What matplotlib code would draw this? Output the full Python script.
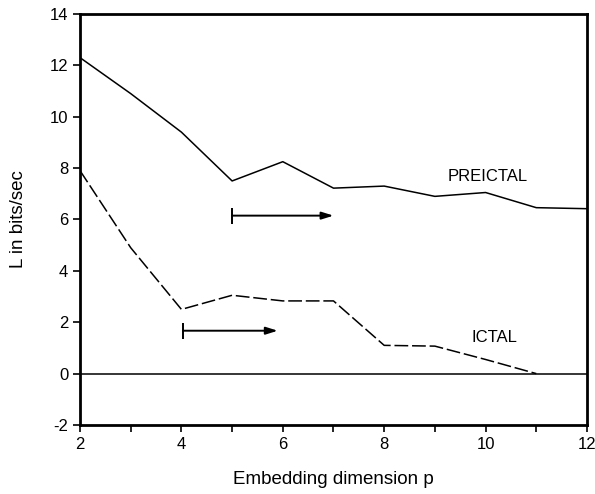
"""L (bits/sec) frente a la dimensión de embedding, preictal vs ictal."""

import matplotlib

matplotlib.use("Agg")
import matplotlib.pyplot as plt
from matplotlib.ticker import MultipleLocator

plt.rcParams["font.family"] = ["Liberation Sans", "DejaVu Sans"]
plt.rcParams["axes.unicode_minus"] = False

dims = [2, 3, 4, 5, 6, 7, 8, 9, 10, 11, 12]
preictal = [12.3, 10.9, 9.4, 7.5, 8.25, 7.22, 7.3, 6.9, 7.05, 6.46, 6.42]

dims_ictal = [2, 3, 4, 5, 6, 7, 8, 9, 10, 11]
ictal = [7.9, 4.9, 2.5, 3.05, 2.83, 2.83, 1.1, 1.07, 0.55, 0.0]

# flechas: (inicio x, fin x, y)
arrows = [(5.0, 7.0, 6.15), (4.03, 5.9, 1.67)]

fig = plt.figure(figsize=(5.95, 4.94), dpi=100)
ax = fig.add_axes([0.1345, 0.1397, 0.852, 0.832])

ax.plot(dims, preictal, color="black", linewidth=1.1)
ax.plot(dims_ictal, ictal, color="black", linewidth=1.1, dashes=(9, 2.5))
ax.axhline(0, color="black", linewidth=1.1)

for x0, x1, y in arrows:
    ax.annotate(
        "",
        xy=(x1, y),
        xytext=(x0, y),
        arrowprops=dict(arrowstyle="-|>,head_length=0.7,head_width=0.22",
                        color="black", linewidth=1.4, shrinkA=0, shrinkB=0),
    )
    ax.plot([x0], [y], marker="|", markersize=11, markeredgewidth=1.4, color="black")

ax.text(10.05, 7.67, "PREICTAL", fontsize=12, ha="center", va="center")
ax.text(10.17, 1.4, "ICTAL", fontsize=12, ha="center", va="center")

ax.set_xlim(2, 12)
ax.set_ylim(-2, 14)
ax.xaxis.set_major_locator(MultipleLocator(2))
ax.xaxis.set_minor_locator(MultipleLocator(1))
ax.yaxis.set_major_locator(MultipleLocator(2))
ax.tick_params(which="both", direction="out", width=1.2, labelsize=12)
ax.tick_params(which="major", length=5)
ax.tick_params(which="minor", length=5)
for s in ax.spines.values():
    s.set_linewidth(2.0)

ax.set_xlabel("Embedding dimension p", fontsize=13.5, labelpad=14)
ax.set_ylabel("L in bits/sec", fontsize=13.5, labelpad=16)

fig.savefig("out.png", dpi=100)
